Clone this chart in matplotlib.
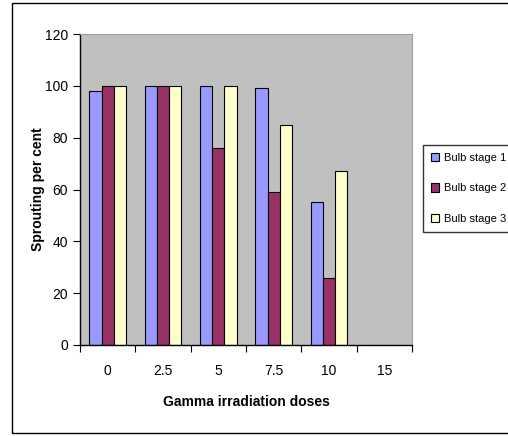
import numpy as np
import matplotlib.pyplot as plt
from matplotlib.patches import Rectangle

# Data
doses = ["0", "2.5", "5", "7.5", "10", "15"]
stage1 = [98, 100, 100, 99, 55, 0]
stage2 = [100, 100, 76, 59, 26, 0]
stage3 = [100, 100, 100, 85, 67, 0]
series_names = ["Bulb stage 1", "Bulb stage 2", "Bulb stage 3"]
colors = ["#9999FF", "#993366", "#FFFFCC"]

plt.rcParams['font.family'] = ['Liberation Sans', 'DejaVu Sans']

W, H = 508, 436
fig = plt.figure(figsize=(W / 100, H / 100), dpi=100)

# outer chart border
fig.patches.append(Rectangle((12 / W, 3 / H), (W - 10) / W, 430 / H,
                             transform=fig.transFigure, fill=False,
                             edgecolor="black", linewidth=1.0))

ax = fig.add_axes([80 / W, 1 - 345 / H, 332 / W, 311 / H])
ax.set_facecolor("#C0C0C0")

x = np.arange(len(doses))
w = 0.222
for i, (vals, name, c) in enumerate(zip([stage1, stage2, stage3], series_names, colors)):
    ax.bar(x + (i - 1) * w, vals, width=w, color=c, edgecolor="black",
           linewidth=0.8, label=name)

ax.set_xlim(-0.5, len(doses) - 0.5)
ax.set_ylim(0, 120)
ax.set_yticks(range(0, 121, 20))
ax.set_xticks(np.arange(-0.5, len(doses), 1.0))
ax.set_xticklabels([])
ax.set_xticks(x, minor=True)
ax.set_xticklabels(doses, minor=True)
ax.tick_params(axis="x", which="minor", length=0, pad=14, labelsize=10)
ax.tick_params(axis="x", which="major", length=5, direction="out")
ax.tick_params(axis="y", length=5, direction="out", labelsize=10)

for s in ["top", "right"]:
    ax.spines[s].set_color("#A0A0A0")
ax.spines["left"].set_linewidth(1.0)
ax.spines["bottom"].set_linewidth(1.0)

ax.set_xlabel("Gamma irradiation doses", fontsize=10, fontweight="bold", labelpad=12)
ax.set_ylabel("Sprouting per cent", fontsize=10, fontweight="bold", labelpad=0)

leg = ax.legend(loc="upper left", bbox_to_anchor=(423 / W, 1 - 145 / H),
                bbox_transform=fig.transFigure, frameon=True, fancybox=False,
                edgecolor="black", fontsize=8, handlelength=0.75,
                handleheight=0.75, handletextpad=0.4, labelspacing=1.85,
                borderpad=0.7, borderaxespad=0)
leg.get_frame().set_linewidth(1.0)

fig.savefig("out.png", dpi=100)
